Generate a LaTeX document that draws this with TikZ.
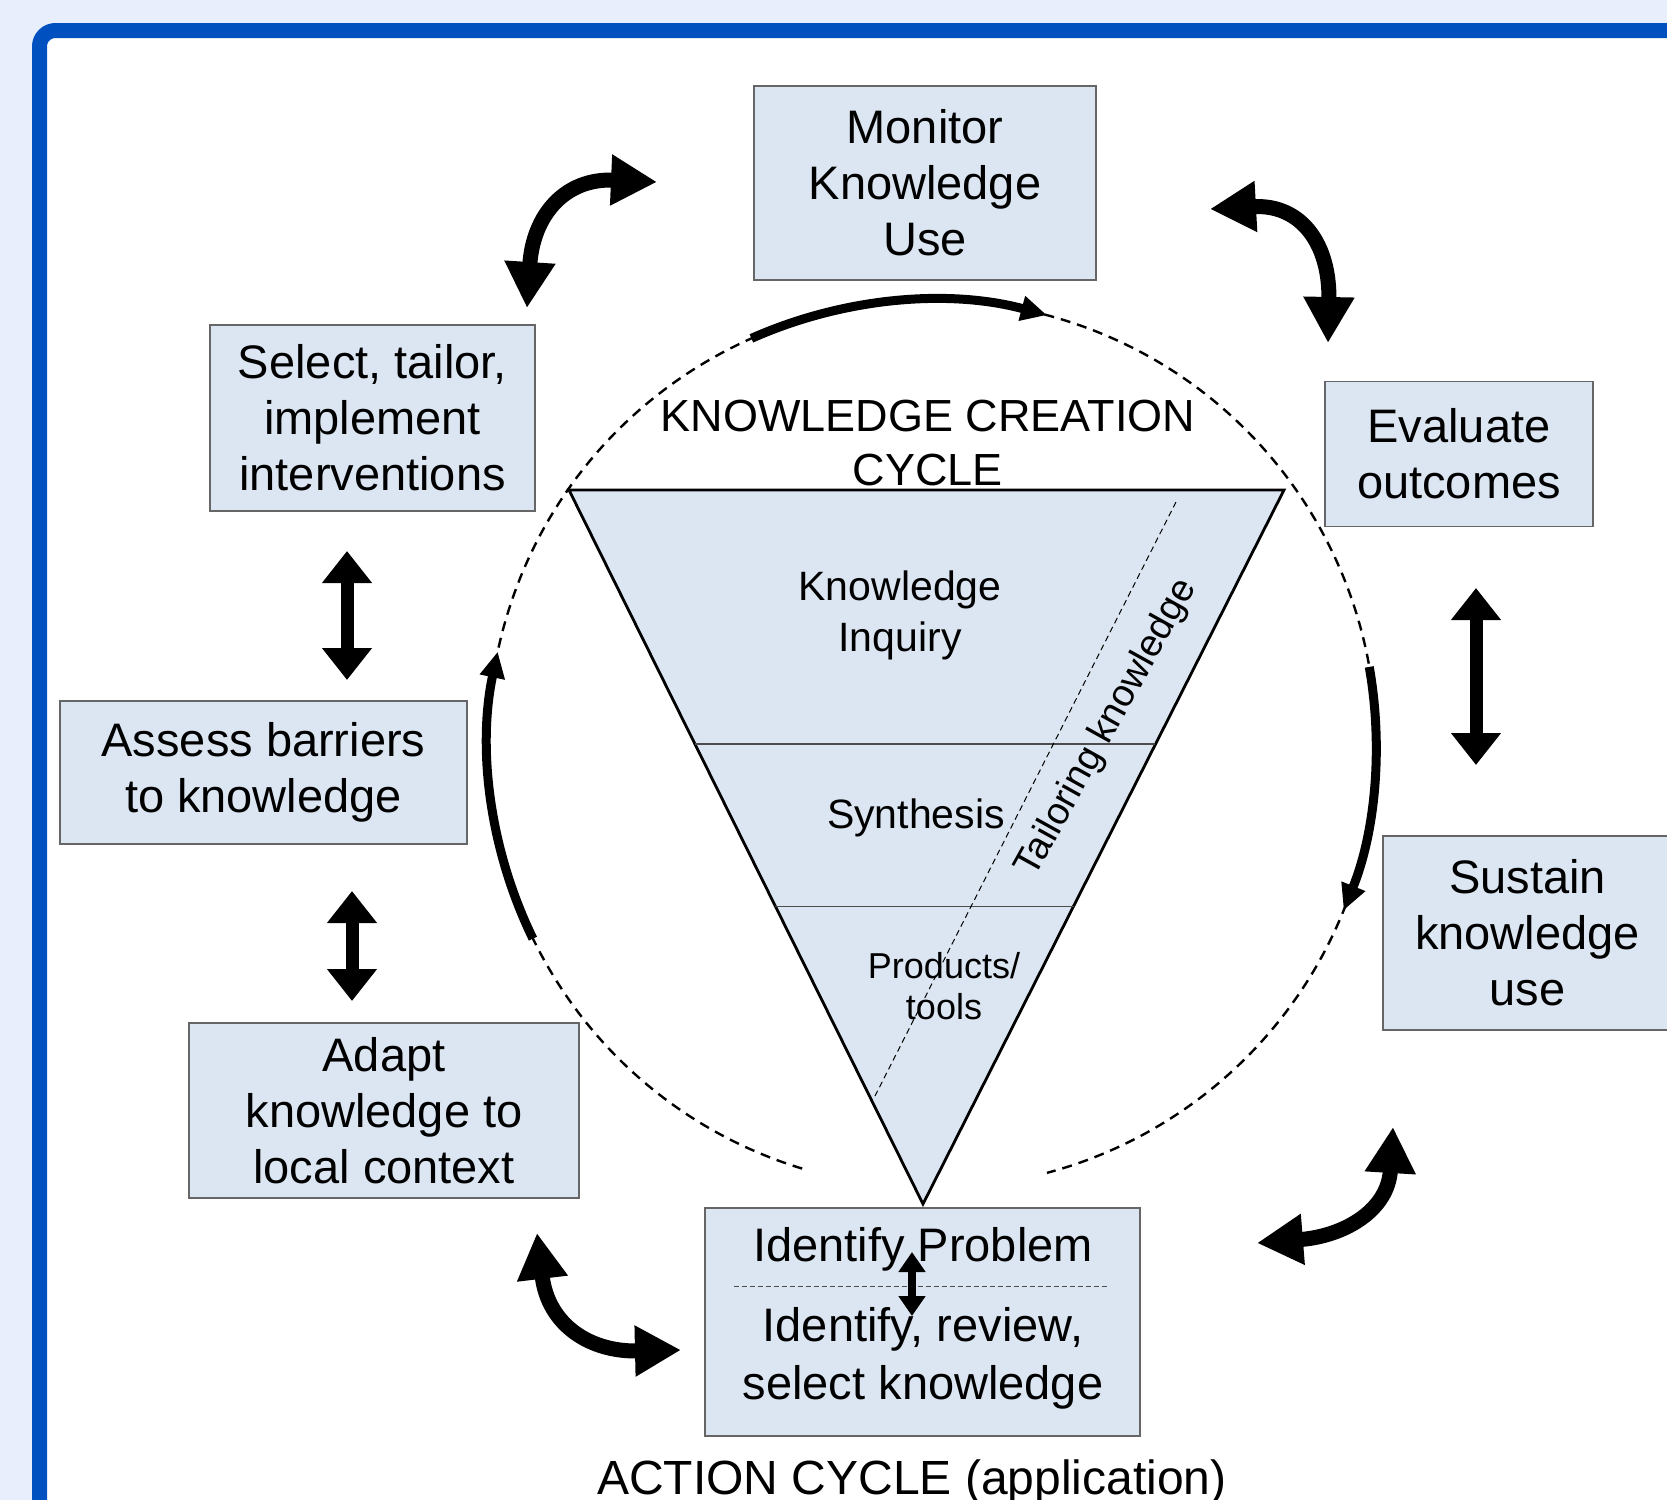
\documentclass[tikz,border=0pt]{standalone}
\usepackage{fontspec}
\setmainfont{Liberation Sans}
\usepackage{xcolor}
\usetikzlibrary{arrows.meta,calc}
\definecolor{pagebg}{RGB}{232,238,252}
\definecolor{frameblue}{RGB}{0,80,192}
\definecolor{boxfill}{RGB}{220,230,242}
\tikzset{%
  tipA/.tip={Triangle[width=24pt,length=23pt]},
  tipB/.tip={Triangle[width=24pt,length=16pt]},
  tipC/.tip={Triangle[width=12pt,length=13pt]},
  tipD/.tip={Triangle[width=13pt,length=10pt]},
  stagebox/.style={draw=black!60, line width=0.75pt, fill=boxfill, inner sep=0pt,
    align=center, font=\fontsize{23.5}{28}\selectfont},
  bendarrow/.style={line width=7.5pt, tipA-tipA},
  barrow/.style={line width=6.5pt, tipB-tipB},
  cyclearrow/.style={line width=4.5pt, -tipC},
  cycleline/.style={line width=1.2pt, dash pattern=on 5pt off 3.5pt}
}

\begin{document}
\begin{tikzpicture}[x=0.5pt,y=-0.5pt]
\useasboundingbox (0,0) rectangle (1667,1500);
\fill[pagebg] (0,0) rectangle (1667,1500);
\draw[frameblue, line width=7.5pt, fill=white, rounded corners=8pt] (39.5,30.5) rectangle (1720,1560);

% knowledge creation funnel
\coordinate (ctr) at (932,744);
\coordinate (tl) at (569,490);
\coordinate (tr) at (1284,490);
\coordinate (tb) at (923,1204);
\filldraw[fill=boxfill, draw=black, line width=1.4pt, line join=miter] (tl) -- (tr) -- (tb) -- cycle;
\draw[black!70, line width=0.7pt] ($(tl)!0.356!(tb)$) -- ($(tr)!0.356!(tb)$);
\draw[black!70, line width=0.7pt] ($(tl)!0.583!(tb)$) -- ($(tr)!0.583!(tb)$);
\coordinate (tk1) at (1176,502);
\coordinate (tk2) at (874,1098);
\draw[line width=0.5pt, dash pattern=on 3pt off 2pt] (tk1) -- (tk2);

\node[align=center, font=\fontsize{22.5}{27.5}\selectfont] (kctitle) at (928,443) {KNOWLEDGE CREATION\\CYCLE};
\node[align=center, font=\fontsize{20.5}{25.5}\selectfont] (inquiry) at (900,615) {Knowledge\\Inquiry};
\node[font=\fontsize{20.5}{25.5}\selectfont] (synth) at (916,818) {Synthesis};
\node[align=center, font=\fontsize{18}{20.7}\selectfont] (products) at (944,986) {Products/\\tools};
\node[rotate=61, font=\fontsize{19}{23}\selectfont] (tailor) at (1107,728) {Tailoring knowledge};

% action cycle ring
\draw[cycleline] (ctr) ++(107:444) arc[start angle=107, end angle=435, radius=444];
\draw[cyclearrow] (ctr) ++(-114:444) arc[start angle=-114, end angle=-75, radius=444];
\draw[cyclearrow] (ctr) ++(-206:444) arc[start angle=-206, end angle=-168, radius=444];
\draw[cyclearrow] (ctr) ++(-10:444) arc[start angle=-10, end angle=22, radius=444];

% stages
\node[stagebox, minimum width=171pt, minimum height=97pt] (monitor) at (925,183) {Monitor\\Knowledge\\Use};
\node[stagebox, minimum width=162.5pt, minimum height=93pt] (select) at (372.5,418) {Select, tailor,\\implement\\interventions};
\node[stagebox, minimum width=134pt, minimum height=72.5pt] (evaluate) at (1459,454) {Evaluate\\outcomes};
\node[stagebox, minimum width=203.5pt, minimum height=71.5pt] (assess) at (263.5,772.5) {Assess barriers\\to knowledge};
\node[stagebox, minimum width=144.5pt, minimum height=97pt] (sustain) at (1527.5,933) {Sustain\\knowledge\\use};
\node[stagebox, minimum width=195pt, minimum height=87.5pt] (adapt) at (384,1110.5) {Adapt\\knowledge to\\local context};
\node[stagebox, minimum width=217.5pt, minimum height=114pt] (identify) at (922.5,1322) {};
\node[anchor=base, font=\fontsize{23.5}{28}\selectfont] (probtxt) at (923,1261) {Identify Problem};
\draw[black!70, line width=0.5pt, dash pattern=on 2.5pt off 1.5pt] (734,1286) -- (1108,1286);
\node[align=center, font=\fontsize{23.5}{29}\selectfont] (revtxt) at (923,1358) {Identify, review,\\select knowledge};
\coordinate (pk1) at (912,1252);
\coordinate (pk2) at (912,1316);
\draw[line width=3.6pt, tipD-tipD] (pk1) -- (pk2);

\node[anchor=base, font=\fontsize{24}{28}\selectfont] (acttitle) at (912,1494) {ACTION CYCLE (application)};

% arrows between stages
\coordinate (ms1) at (527,308);
\coordinate (ms2) at (657,182);
\draw[bendarrow] (ms1) .. controls (533,215) and (565,178) .. (ms2);
\coordinate (me1) at (1210,209);
\coordinate (me2) at (1328,343);
\draw[bendarrow] (me1) .. controls (1302,204) and (1330,245) .. (me2);
\coordinate (si1) at (1393,1127);
\coordinate (si2) at (1257,1243);
\draw[bendarrow] (si1) .. controls (1388,1210) and (1345,1236) .. (si2);
\coordinate (ai1) at (537,1233);
\coordinate (ai2) at (681,1350);
\draw[bendarrow] (ai1) .. controls (548,1325) and (590,1352) .. (ai2);

\coordinate (sa1) at (347,551);
\coordinate (sa2) at (347,680);
\draw[barrow] (sa1) -- (sa2);
\coordinate (aa1) at (352,891);
\coordinate (aa2) at (352,1001);
\draw[barrow] (aa1) -- (aa2);
\coordinate (es1) at (1476,588);
\coordinate (es2) at (1476,765);
\draw[barrow] (es1) -- (es2);
\end{tikzpicture}
\end{document}
